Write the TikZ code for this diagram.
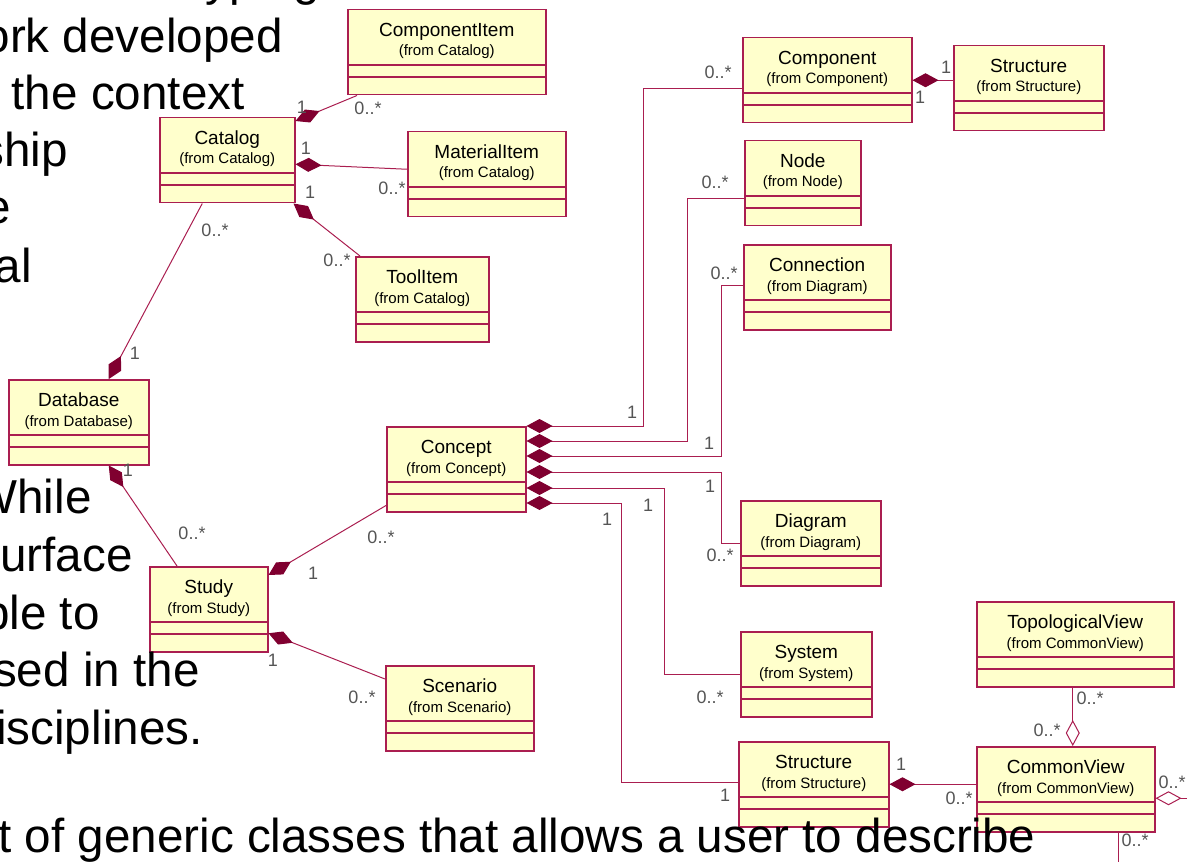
\documentclass[tikz,border=0pt]{standalone}
\usepackage{fontspec}
\setmainfont{Liberation Sans}
\usetikzlibrary{arrows.meta,calc}
\definecolor{roseline}{RGB}{170,30,80}
\definecolor{rosefill}{RGB}{255,255,204}
\definecolor{rosedia}{RGB}{128,0,48}
\definecolor{multgray}{RGB}{85,85,85}

\begin{document}
\begin{tikzpicture}[x=0.5pt, y=-0.5pt,
  cls/.style={draw=roseline, line width=0.75pt, fill=rosefill, inner sep=0pt, minimum height=42.5pt, anchor=north west},
  sep/.style={roseline, line width=0.75pt},
  title/.style={font=\fontsize{9.5}{11}\selectfont, anchor=base, inner sep=0pt},
  pkg/.style={font=\fontsize{7.5}{9}\selectfont, anchor=base, inner sep=0pt},
  mult/.style={font=\fontsize{9}{10}\selectfont, text=multgray, inner sep=0pt},
  slide/.style={font=\fontsize{23.8}{28}\selectfont, anchor=base east, inner sep=0pt},
  assoc/.style={roseline, line width=0.5pt},
  comp/.style={assoc, {Diamond[length=13pt, width=7pt, color=rosedia, fill=rosedia]}-},
  aggr/.style={assoc, {Diamond[open, length=13pt, width=7pt, fill=white]}-}]
  \useasboundingbox (0,0) rectangle (1187,861);
  \clip (0,0) rectangle (1187,861);
  \foreach \n/\x/\y/\w/\t/\p in {
    compitem/347/9/198/ComponentItem/Catalog, catalog/159/117/135/Catalog/Catalog,
    matitem/407/131/158/MaterialItem/Catalog, toolitem/355/256/133/ToolItem/Catalog,
    database/8/379/140/Database/Database, study/149/566/118/Study/Study,
    scenario/385/665/148/Scenario/Scenario, concept/386/426/139/Concept/Concept,
    component/742/37/169/Component/Component, structa/953/45/150/Structure/Structure,
    nodebox/744/140/116/Node/Node, connection/743/244/147/Connection/Diagram,
    diagram/740/500/140/Diagram/Diagram, system/740/631/131/System/System,
    structb/738/741/150/Structure/Structure, topoview/976/601/197/TopologicalView/CommonView,
    commonview/976/746/178/CommonView/CommonView} {
    \node[cls, minimum width=\w*0.5pt] (\n) at (\x,\y) {};
    \draw[sep] ($(\n.north west)+(0,56)$) -- ($(\n.north east)+(0,56)$)
      ($(\n.north west)+(0,68)$) -- ($(\n.north east)+(0,68)$);
    \node[title] (\n-t) at ($(\n.north)+(0,27.5)$) {\t};
    \node[pkg] (\n-p) at ($(\n.north)+(0,47)$) {(from \p)};
  }
  \draw[comp] ($(catalog.north east)+(0,4)$) -- ($(compitem.south west)+(10,0)$);
  \draw[comp] ($(catalog.east)+(0,4)$) -- ($(matitem.west)+(0,-5)$);
  \draw[comp] ($(catalog.south east)+(-2,0)$) -- ($(toolitem.north west)+(5,0)$);
  \draw[comp] ($(database.north)+(30,0)$) -- ($(catalog.south)+(-25,0)$);
  \draw[comp] ($(database.south)+(30,0)$) -- ($(study.north west)+(28,0)$);
  \draw[comp] ($(study.north east)+(0,9)$) -- ($(concept.south west)+(0,-7)$);
  \draw[comp] ($(study.east)+(0,24)$) -- ($(scenario.north west)+(0,14)$);
  \draw[comp] (concept.north east) -- ++(117,0) |- ($(component.west)+(0,8)$);
  \draw[comp] ($(concept.north east)+(0,15)$) -- ++(161,0) |- ($(nodebox.west)+(0,15)$);
  \draw[comp] ($(concept.north east)+(0,30)$) -- ++(195,0) |- ($(connection.west)+(0,-2)$);
  \draw[comp] ($(concept.north east)+(0,46)$) -- ++(195,0) |- (diagram.west);
  \draw[comp] ($(concept.north east)+(0,62)$) -- ++(138,0) |- (system.west);
  \draw[comp] ($(concept.north east)+(0,77)$) -- ++(95,0) |- ($(structb.west)+(0,-2)$);
  \draw[comp] (component.east) -- (component.east -| structa.west);
  \draw[comp] (structb.east) -- (structb.east -| commonview.west);
  \coordinate (cvtop) at ($(commonview.north)+(7,0)$);
  \coordinate (cvright) at ($(commonview.east)+(0,9)$);
  \coordinate (cvbot) at ($(commonview.south)+(53,0)$);
  \coordinate (offside) at (1210,880);
  \draw[aggr] (cvtop) -- (cvtop |- topoview.south);
  \draw[aggr] (cvright) -- (cvright -| offside);
  \draw[assoc] (cvbot) -- (cvbot |- offside);
  \foreach \lx/\ly/\lt [count=\i] in {
    302/107/1, 368/108/0..*, 306/148/1, 392/188/0..*, 310/192/1, 337/260/0..*,
    215/230/0..*, 135/353/1, 128/470/1, 192/533/0..*, 381/537/0..*, 313/573/1,
    273/660/1, 362/697/0..*, 632/412/1, 718/72/0..*, 715/182/0..*, 709/443/1,
    724/273/0..*, 710/486/1, 720/555/0..*, 648/505/1, 710/697/0..*, 607/519/1,
    725/795/1, 946/67/1, 920/97/1, 901/764/1, 959/798/0..*, 1090/698/0..*,
    1047/730/0..*, 1172/782/0..*, 1135/840/0..*}
    \node[mult] (m\i) at (\lx,\ly) {\lt};
  \foreach \sx/\sy/\st [count=\i] in {
    320/-4/typing, 283/53/ork developed, 245/110/the context, 68/167/ship,
    11/224/e, 32/282/al, 92/513/While, 133/571/urface, 100/629/ble to,
    200/686/sed in the, 203/744/isciplines.,
    1036/852/t of generic classes that allows a user to describe}
    \node[slide] (s\i) at (\sx,\sy) {\st};
\end{tikzpicture}
\end{document}
